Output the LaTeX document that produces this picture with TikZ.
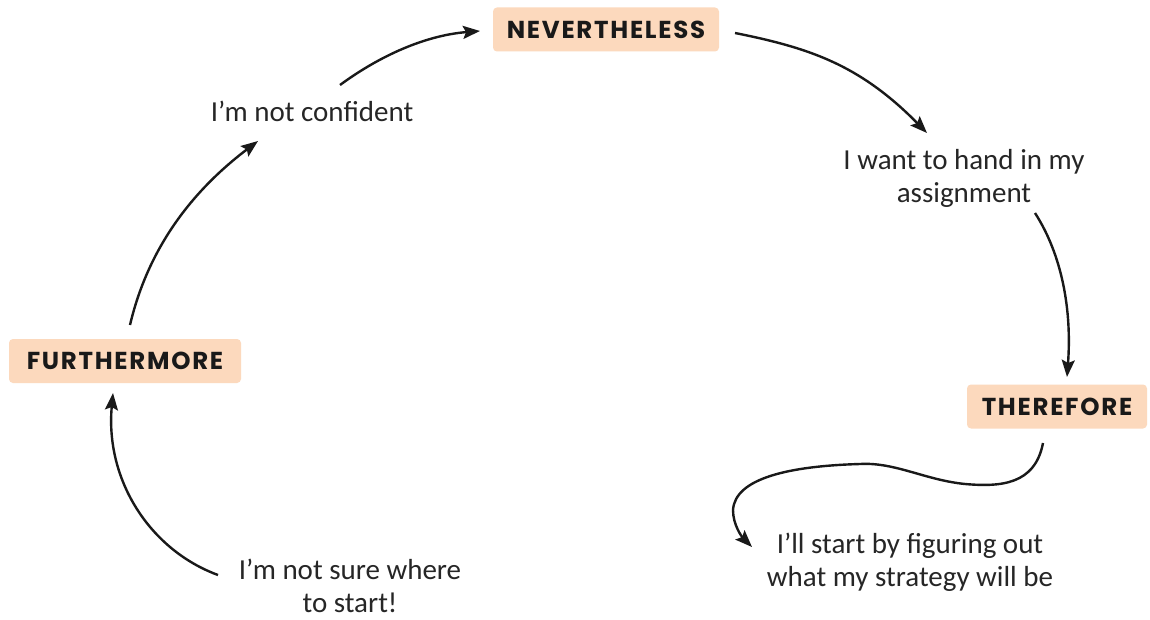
\documentclass[tikz,border=0pt]{standalone}
\usepackage{fontspec}
\setmainfont{Carlito}
\newfontfamily\boxfont[LetterSpace=7]{Poppins}
\usetikzlibrary{arrows.meta}
\definecolor{peach}{RGB}{252,217,189}
\tikzset{
  tag/.style={fill=peach, rounded corners=4pt, inner sep=0pt, minimum height=44pt,
    font=\boxfont\fontsize{24.5}{28}\selectfont\bfseries, text=black!90},
  note/.style={align=center, font=\fontsize{29}{33}\selectfont, text=black!85},
  flow/.style={line width=2.4pt, -{Stealth[length=17pt,width=13pt,inset=3pt]}, black!90}
}
\begin{document}
\begin{tikzpicture}[x=1pt,y=-1pt]
\useasboundingbox (0,0) rectangle (1150,620);
\fill[white] (0,0) rectangle (1150,620);

% labels
\node[tag, minimum width=226pt] (nev) at (606,29.5) {NEVERTHELESS};
\node[tag, minimum width=232pt] (fur) at (125,361) {FURTHERMORE};
\node[tag, minimum width=180pt] (the) at (1057,406.5) {THEREFORE};

% statements
\node[note] (conf) at (312,111) {I’m not confident};
\node[note] (hand) at (964,178) {I want to hand in my\\assignment};
\node[note] (strat) at (910,562) {I’ll start by figuring out\\what my strategy will be};
\node[note] (sure) at (350,586) {I’m not sure where\\to start!};

% connector end points
\coordinate (a1s) at (218,575);  \coordinate (a1e) at (113,393);
\coordinate (a2s) at (130,325);  \coordinate (a2e) at (258,141);
\coordinate (a3s) at (340,85);   \coordinate (a3e) at (480,31);
\coordinate (a4s) at (735,33);   \coordinate (a4e) at (927,133);
\coordinate (a5s) at (1035,213); \coordinate (a5e) at (1067,377);
\coordinate (a6s) at (1043,443); \coordinate (a6e) at (752,547);

\draw[flow] (a1s) .. controls (150,550) and (105,480) .. (a1e);
\draw[flow] (a2s) .. controls (150,240) and (200,185) .. (a2e);
\draw[flow] (a3s) .. controls (385,52) and (430,35) .. (a3e);
\draw[flow] (a4s) .. controls (810,48) and (860,65) .. (a4e);
\draw[flow] (a5s) .. controls (1062,255) and (1072,310) .. (a5e);
\draw[flow] (a6s) .. controls (1035,485) and (1000,487) .. (965,484)
  .. controls (925,480) and (895,462) .. (860,464)
  .. controls (790,466) and (735,478) .. (733,510)
  .. controls (733,525) and (742,537) .. (a6e);
\end{tikzpicture}
\end{document}
